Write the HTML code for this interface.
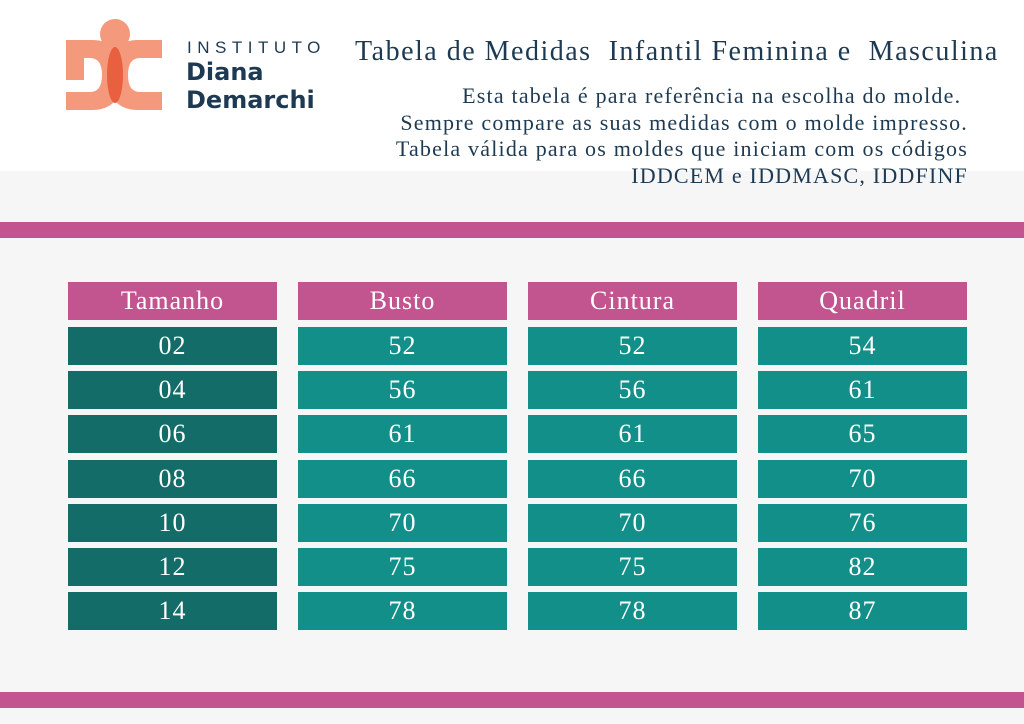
<!DOCTYPE html>
<html><head><meta charset="utf-8"><style>
body{margin:0;width:1024px;height:724px;overflow:hidden;background:#f6f6f6;position:relative;font-family:"Liberation Serif",serif}
#top{position:absolute;left:0;top:0;width:1024px;height:171px;background:#fff}
.band{position:absolute;left:0;width:1024px;height:16px;background:#c2548f}
.t{position:absolute;color:#1d3a52;white-space:nowrap}
.cell{position:absolute;height:38px;color:#fff;text-align:center;line-height:38px;font-size:26px;letter-spacing:1px}
</style></head><body>
<div id="top"></div>
<svg style="position:absolute;left:66px;top:18px" width="100" height="96">
<circle cx="49" cy="16" r="15" fill="#f4997b"/>
<path d="M0 22 H26 Q56 22 56 57 Q56 92 26 92 H0 V74 H24 Q36 74 36 57 Q36 40 24 40 H18 V62 H0 Z" fill="#f4997b"/>
<path d="M96 22 H72 Q42 22 42 57 Q42 92 72 92 H96 V74 H74 Q62 74 62 57 Q62 40 74 40 H96 Z" fill="#f4997b"/>
<ellipse cx="49" cy="57" rx="8" ry="28" fill="#e8603f"/>
</svg>
<div class="t" style="left:187px;top:38px;font-family:'Liberation Sans',sans-serif;font-size:17px;letter-spacing:5.5px">INSTITUTO</div>
<div class="t" style="left:186px;top:58px;font-family:'DejaVu Sans',sans-serif;font-weight:bold;font-size:24px;line-height:28px">Diana<br>Demarchi</div>
<div class="t" style="left:355px;top:36px;font-size:28px;letter-spacing:1.5px">Tabela de Medidas&nbsp; Infantil Feminina e&nbsp; Masculina</div>
<div class="t" style="right:56px;top:83px;font-size:22px;letter-spacing:1.2px;line-height:26.5px;text-align:right">Esta tabela é para referência na escolha do molde.&nbsp;<br>Sempre compare as suas medidas com o molde impresso.<br>Tabela válida para os moldes que iniciam com os códigos<br>IDDCEM e IDDMASC, IDDFINF</div>
<div class="band" style="top:222px"></div>
<div class="band" style="top:692px"></div>
<div id="tbl"></div>
<script>
const headers=["Tamanho","Busto","Cintura","Quadril"];
const sizes=["02","04","06","08","10","12","14"];
const busto=[52,56,61,66,70,75,78];
const cintura=[52,56,61,66,70,75,78];
const quadril=[54,61,65,70,76,82,87];
const cols=[sizes,busto,cintura,quadril];
const xs=[68,298,528,758];
const tbl=document.getElementById('tbl');
headers.forEach((h,i)=>{
 const d=document.createElement('div');d.className='cell';
 d.style.cssText=`left:${xs[i]}px;top:282px;width:209px;background:#c2548f`;
 d.textContent=h;
 
 
 tbl.appendChild(d);
 cols[i].forEach((v,r)=>{
  const c=document.createElement('div');c.className='cell';
  c.style.cssText=`left:${xs[i]}px;top:${327+r*44.2}px;width:209px;background:${i==0?'#136c68':'#138f89'}`;
  c.textContent=v;
  
  
  tbl.appendChild(c);
 });
});
</script>
</body></html>
